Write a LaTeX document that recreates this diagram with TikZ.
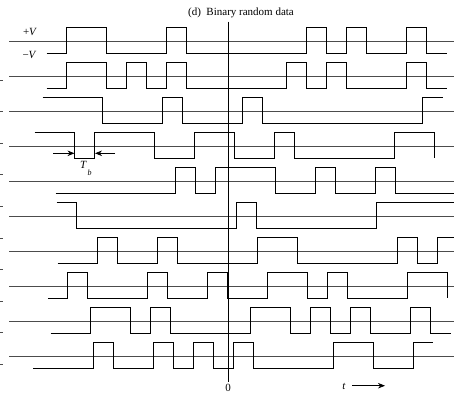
\documentclass[tikz,border=0pt]{standalone}
\usepackage{fontspec}
\setmainfont{Liberation Serif}
\usetikzlibrary{arrows.meta}
\tikzset{
  wave/.style={black, line width=0.75pt, line join=miter},
  baseline/.style={black!70, line width=0.9pt},
  axisline/.style={black, line width=0.8pt},
  tick/.style={black!70, line width=0.8pt},
  lbl/.style={inner sep=0pt, font=\fontsize{11}{13}\selectfont},
  tbarrow/.style={black, line width=0.7pt, -{Stealth[length=7pt,width=5.5pt]}},
}
% #1 baseline y, #2 x0, #3 first bit, #4 bits, #5 extra path at the end
\newcommand\mywave[5]{%
  \draw[baseline] (9,#1) -- (460,#1);
  \draw[wave] (#2,{#1+11.5-25.5*#3}) \foreach \b [count=\k from 0] in {#4} {
      -- ({#2+20*\k},{#1+11.5-25.5*\b}) -- ({#2+20*(\k+1)},{#1+11.5-25.5*\b})
    } #5;
}
\begin{document}
\begin{tikzpicture}[x=1pt,y=-1pt]
\clip (0,0) rectangle (454,394);
\fill[white] (0,0) rectangle (454,394);
% left ticks
\foreach \i in {0,...,9} {
  \draw[tick] (0,{80+31.6*\i}) -- (3,{80+31.6*\i});
}
% waveforms
\mywave{41.7}{46.7}{0}{0,1,1,0,0,0,1,0,0,0,0,0,0,1,0,1,0,0,1,0}{}
\mywave{76.7}{46.7}{0}{0,1,1,0,1,0,1,0,0,0,0,0,1,0,1,0,0,0,1,0}{}
\mywave{111.7}{42.7}{1}{1,1,1,0,0,0,1,0,0,0,1,0,0,0,0,0,0,0,0,1}{}
\mywave{146.7}{34.7}{1}{1,1,0,1,1,1,0,0,1,1,0,0,1,0,0,0,0,0,1,1}{-- ++(0,25.5)}
\mywave{181.7}{55.7}{0}{0,0,0,0,0,0,1,0,1,1,1,0,0,1,0,0,1,0,0,0}{}
\mywave{216.7}{56.7}{1}{1,0,0,0,0,0,0,0,0,1,0,0,0,0,0,0,1,1,1,1}{}
\mywave{251.7}{57.7}{0}{0,0,1,0,0,1,0,0,0,0,1,1,0,0,0,0,0,1,0,1}{}
\mywave{286.7}{47.8}{0}{0,1,0,0,0,1,0,0,1,0,0,1,1,0,1,0,0,0,1,1}{-- ++(0,25.5)}
\mywave{321.7}{50.7}{0}{0,0,1,1,0,1,0,0,0,0,1,1,0,1,0,1,0,0,1,0}{}
\mywave{356.7}{33.3}{0}{0,0,0,1,0,0,1,0,1,0,1,0,0,0,0,1,1,0,0,1}{}
% vertical axis
\coordinate (axtop) at (228,21.7);
\coordinate (axbot) at (228,381.7);
\draw[axisline] (axtop) -- (axbot);
% labels
\node[lbl] (title) at (241,12.5) {(d)\hspace{0.5em}Binary random data};
\node[lbl] (pv) at (30,32) {+\textit{V}};
\node[lbl] (mv) at (29.5,55) {−\textit{V}};
\node[lbl] (zero) at (228,388) {0};
\node[lbl] (tlab) at (344,386) {\textit{t}};
\coordinate (tarrs) at (352,385.7);
\coordinate (tarre) at (385,385.7);
\draw[tbarrow] (tarrs) -- (tarre);
% T_b marker
\coordinate (ala) at (53,153.3);
\coordinate (alb) at (74.5,153.3);
\coordinate (ara) at (115,153.3);
\coordinate (arb) at (95,153.3);
\draw[tbarrow] (ala) -- (alb);
\draw[tbarrow] (ara) -- (arb);
\node[lbl] (tb) at (83.5,165) {\textit{T}};
\node[inner sep=0pt, font=\fontsize{8}{9}\selectfont] (tbsub) at (89.5,172.5) {\textit{b}};
\end{tikzpicture}
\end{document}
